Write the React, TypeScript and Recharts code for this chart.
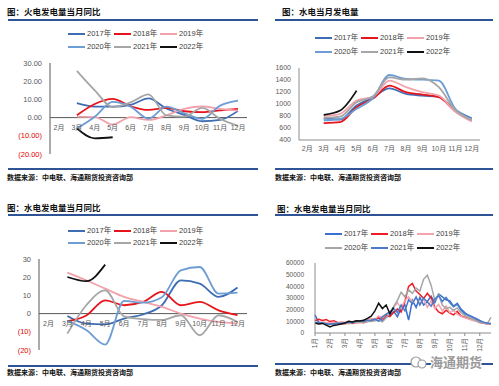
import React from "react";
import { LineChart, Line, XAxis, YAxis, ReferenceLine } from "recharts";

const MONTHS = ["2月", "3月", "4月", "5月", "6月", "7月", "8月", "9月", "10月", "11月", "12月"];
const MONTHS12 = ["1月", "2月", "3月", "4月", "5月", "6月", "7月", "8月", "9月", "10月", "11月", "12月"];
const YEARS = ["2017年", "2018年", "2019年", "2020年", "2021年", "2022年"];
const KEYS = ["y2017", "y2018", "y2019", "y2020", "y2021", "y2022"];

// 火电发电量当月同比 (%)
const THERMAL_2017 = [null, 7.9, 6.0, 6.0, 7.0, 10.6, 5.0, 1.5, -2.0, -1.3, 3.7];
const THERMAL_2018 = [null, 1.3, 7.5, 10.3, 6.2, 4.2, 5.3, 3.5, 3.0, 4.0, 4.8];
const THERMAL_2019 = [null, 0.5, 0.3, -3.8, 0.3, -1.3, 1.2, 4.8, 6.1, 4.8, 3.8];
const THERMAL_2020 = [null, -6.0, 0.5, 8.6, 6.0, -0.6, 6.0, 2.4, -0.7, 6.6, 9.3];
const THERMAL_2021 = [null, 25.7, 15.0, 5.8, 8.4, 12.8, 1.2, 0.5, 5.3, -0.7, -4.5];
const THERMAL_2022 = [null, -5.9, -11.4, -10.8];

// 水电当月发电量 (亿千瓦时)
const HYDRO_2017 = [null, 755, 742, 975, 1110, 1262, 1168, 1140, 1120, 900, 760];
const HYDRO_2018 = [null, 682, 698, 947, 1090, 1306, 1196, 1157, 1113, 880, 720];
const HYDRO_2019 = [null, 800, 836, 1057, 1120, 1390, 1280, 1196, 1140, 870, 710];
const HYDRO_2020 = [null, 726, 750, 920, 1100, 1483, 1417, 1405, 1390, 920, 750];
const HYDRO_2021 = [null, 770, 790, 1030, 1130, 1444, 1405, 1428, 1280, 900, 735];
const HYDRO_2022 = [null, 820, 892, 1223];

// 水电发电量当月同比 (%)
const HYDRO_YOY_2017 = [null, -1.3, -5.5, -5.9, -2.7, -0.5, 4.6, 18.3, 16.5, 9.2, 14.3];
const HYDRO_YOY_2018 = [null, -4.2, -1.0, 7.3, 4.6, 6.4, 11.9, 4.6, 6.4, 1.8, -0.9];
const HYDRO_YOY_2019 = [null, 22.5, 18.3, 13.7, 9.2, 6.4, 3.7, 0.0, -2.7, -4.6, -5.5];
const HYDRO_YOY_2020 = [null, -4.0, -9.0, -17.0, 7.0, 6.0, 9.0, 23.8, 25.6, 11.0, 11.5];
const HYDRO_YOY_2021 = [null, -11.0, 4.6, 12.8, -1.5, -3.0, -3.5, -0.9, -11.9, -0.9, -4.6];
const HYDRO_YOY_2022 = [null, 20.1, 17.8, 26.9];

// 日均水电发电量, 4 readings per month
const DAILY_2017 = [
  15500, 9000, 8500, 8800, 8200, 7800, 8600, 8000, 8400, 9000, 8700, 9300,
  9500, 10200, 9800, 11000, 11500, 12800, 10500, 13500, 15000, 18500, 14000, 21000,
  24000, 11000, 28000, 22000, 30500, 24000, 27000, 31500, 26000, 33500, 31000, 28500,
  27500, 23000, 25500, 20500, 17500, 15000, 14000, 12000, 10500, 9000, 8200, 7800,
];
const DAILY_2018 = [
  10500, 11800, 10800, 11500, 9800, 10500, 9000, 8500, 8000, 8600, 8200, 9000,
  9200, 8800, 10000, 10500, 11500, 13000, 12000, 15500, 14000, 17500, 20500, 18000,
  27000, 40000, 42500, 36000, 33000, 29500, 34000, 30000, 22000, 18000, 16500, 19500,
  17000, 15500, 18500, 14500, 13500, 12500, 11500, 10500, 9000, 8500, 7800, 8200,
];
const DAILY_2019 = [
  9000, 8500, 9500, 9000, 8800, 9200, 8500, 9600, 9200, 10000, 9500, 10500,
  10200, 11000, 11800, 12500, 12000, 14500, 13000, 16500, 18000, 22000, 26000, 21000,
  28000, 31000, 26500, 30000, 25000, 29000, 22000, 27500, 21000, 24500, 19000, 23000,
  17500, 19500, 16000, 14500, 13000, 12000, 11000, 10000, 9500, 8500, 7500, 8000,
];
const DAILY_2020 = [
  8500, 8000, 8800, 7800, 7200, 7600, 8200, 7800, 8500, 8000, 9000, 8800,
  9500, 9000, 10000, 9800, 10500, 11000, 9500, 13000, 17000, 22500, 28000, 35000,
  31000, 37000, 34000, 38500, 36000, 46000, 49500, 41000, 28000, 33000, 24000, 21000,
  22000, 19500, 21500, 17500, 15000, 13500, 12000, 10500, 9000, 8500, 7800, 13500,
];
const DAILY_2021 = [
  8800, 9300, 8500, 8000, 7500, 8000, 8500, 8200, 8800, 9500, 9000, 10000,
  10500, 9800, 11000, 10800, 12000, 10000, 14000, 16000, 18000, 21000, 17500, 24000,
  19000, 28500, 25000, 31000, 24000, 30000, 26500, 23000, 29000, 32000, 27000, 30500,
  26000, 22500, 24500, 19500, 16500, 15500, 13500, 12500, 10500, 9200, 8600, 8000,
];
const DAILY_2022 = [
  8500, 7800, 8200, 6800, 5200, 6500, 7000, 7800, 8500, 10000, 9500, 10500,
  10200, 11000, 12500, 14500, 19000, 25500, 21000, 24000, 16500, 22000,
];

const COLORS = ["#3e6db3", "#e8141b", "#f2a2ac", "#6d9dd4", "#a6a6a6", "#111111"];
const DAILY_COLORS = ["#3b6fd0", "#ee1c25", "#f5a3ad", "#a6a6a6", "#4a7bc8", "#111111"];

const FONT = '"Liberation Sans", Arial, "Noto Sans CJK SC", sans-serif';
const CJK = '"Noto Sans CJK SC", sans-serif';
const RULE = "#2f5496";
const AXIS = "#595959";

const toRows = (cats: any[], series: any[][]) =>
  cats.map((m, i) => {
    const r: any = { m };
    series.forEach((s, k) => {
      r[KEYS[k]] = s[i] ?? null;
    });
    return r;
  });

const thermalRows = toRows(MONTHS, [THERMAL_2017, THERMAL_2018, THERMAL_2019, THERMAL_2020, THERMAL_2021, THERMAL_2022]);
const hydroRows = toRows(MONTHS, [HYDRO_2017, HYDRO_2018, HYDRO_2019, HYDRO_2020, HYDRO_2021, HYDRO_2022]);
const hydroYoyRows = toRows(MONTHS, [HYDRO_YOY_2017, HYDRO_YOY_2018, HYDRO_YOY_2019, HYDRO_YOY_2020, HYDRO_YOY_2021, HYDRO_YOY_2022]);
const dailyRows = toRows(
  DAILY_2017.map((_, i) => i),
  [DAILY_2017, DAILY_2018, DAILY_2019, DAILY_2020, DAILY_2021, DAILY_2022]
);

function Rule({ x, y, w }: { x: number; y: number; w: number }) {
  return <div style={{ position: "absolute", left: x, top: y, width: w, height: 2, background: RULE }} />;
}

function Label({ x, y, size, children, bold = false, color = "#111" }: any) {
  return (
    <div
      style={{
        position: "absolute",
        left: x,
        top: y - size * 0.65,
        fontSize: size,
        lineHeight: `${size * 1.3}px`,
        fontWeight: bold ? 700 : 400,
        fontFamily: CJK,
        color,
        whiteSpace: "nowrap",
      }}
    >
      {children}
    </div>
  );
}

function Legend({ x, y, rowGap, colors }: { x: number; y: number; rowGap: number; colors: string[] }) {
  return (
    <>
      {YEARS.map((name, i) => {
        const left = x + (i % 3) * 46;
        const top = y + Math.floor(i / 3) * rowGap;
        return (
          <React.Fragment key={name}>
            <div style={{ position: "absolute", left, top: top - 1, width: 17, height: 2, background: colors[i] }} />
            <div
              style={{
                position: "absolute",
                left: left + 19,
                top: top - 5,
                fontSize: 7.5,
                lineHeight: "10px",
                fontFamily: FONT,
                color: "#404040",
                whiteSpace: "nowrap",
              }}
            >
              {name}
            </div>
          </React.Fragment>
        );
      })}
    </>
  );
}

const pctTick = (decimals: number) => (props: any) => {
  const { x, y, payload } = props;
  const v = payload.value;
  const s = v < 0 ? `(${Math.abs(v).toFixed(decimals)})` : v.toFixed(decimals);
  return (
    <text x={x} y={y} dy="0.35em" textAnchor="end" fontSize={7.5} fontFamily={FONT} fill={v < 0 ? "#e00000" : AXIS}>
      {s}
    </text>
  );
};

function PctChart({ rows, box, decimals }: any) {
  const plotH = box.h - box.mt - box.xh;
  const zeroY = box.mt + (plotH * 30) / 50;
  const XTick = ({ x, payload }: any) => (
    <text x={x} y={zeroY + 10} dy="0.35em" textAnchor="middle" fontSize={7} fontFamily={FONT} fill={AXIS}>
      {payload.value}
    </text>
  );
  return (
    <div style={{ position: "absolute", left: box.left, top: box.top }}>
      <LineChart width={box.w} height={box.h} data={rows} margin={{ top: box.mt, right: box.mr, left: 0, bottom: 0 }}>
        <XAxis
          dataKey="m"
          height={box.xh}
          axisLine={false}
          tickLine={false}
          interval={0}
          padding={{ left: box.band / 2, right: box.band / 2 }}
          tick={<XTick />}
        />
        <YAxis
          width={box.yw}
          domain={[-20, 30]}
          ticks={[-20, -10, 0, 10, 20, 30]}
          interval={0}
          axisLine={{ stroke: AXIS }}
          tickLine={false}
          tick={pctTick(decimals)}
        />
        <ReferenceLine y={0} stroke={AXIS} strokeWidth={1} />
        {KEYS.map((k, i) => (
          <Line
            key={k}
            dataKey={k}
            type="monotone"
            stroke={COLORS[i]}
            strokeWidth={1.8}
            dot={false}
            activeDot={false}
            isAnimationActive={false}
          />
        ))}
      </LineChart>
    </div>
  );
}

const P1 = { left: 0, top: 56, w: 252, h: 104, mt: 7, mr: 5, yw: 50, xh: 6, band: 17.9 };
const P2 = { left: 250, top: 60, w: 235, h: 96, mt: 8, mr: 5, yw: 49, xh: 16, band: 16.5 };
const P3 = { left: 0, top: 252, w: 252, h: 104, mt: 7, mr: 5, yw: 39, xh: 6, band: 18.9 };
const P4 = { left: 250, top: 256, w: 245, h: 97, mt: 7, mr: 4, yw: 65, xh: 20 };

function HydroChart() {
  const XTick = ({ x, y, payload }: any) => (
    <text x={x} y={y + 1} dy="0.35em" textAnchor="middle" fontSize={7} fontFamily={FONT} fill={AXIS}>
      {payload.value}
    </text>
  );
  return (
    <div style={{ position: "absolute", left: P2.left, top: P2.top }}>
      <LineChart width={P2.w} height={P2.h} data={hydroRows} margin={{ top: P2.mt, right: P2.mr, left: 0, bottom: 0 }}>
        <XAxis
          dataKey="m"
          height={P2.xh}
          axisLine={{ stroke: "#8c8c8c" }}
          tickLine={false}
          interval={0}
          padding={{ left: P2.band / 2, right: P2.band / 2 }}
          tick={<XTick />}
        />
        <YAxis
          width={P2.yw}
          domain={[400, 1600]}
          ticks={[400, 600, 800, 1000, 1200, 1400, 1600]}
          interval={0}
          axisLine={{ stroke: "#8c8c8c" }}
          tickLine={false}
          tick={{ fontSize: 7, fontFamily: FONT, fill: AXIS }}
        />
        {KEYS.map((k, i) => (
          <Line
            key={k}
            dataKey={k}
            type="monotone"
            stroke={COLORS[i]}
            strokeWidth={1.8}
            dot={false}
            activeDot={false}
            isAnimationActive={false}
          />
        ))}
      </LineChart>
    </div>
  );
}

function DailyChart() {
  const XTick = ({ x, y, payload }: any) => (
    <text
      transform={`translate(${x},${y}) rotate(-90)`}
      dy="0.35em"
      textAnchor="end"
      fontSize={6.5}
      fontFamily={FONT}
      fill={AXIS}
    >
      {MONTHS12[Math.floor(payload.value / 4)]}
    </text>
  );
  return (
    <div style={{ position: "absolute", left: P4.left, top: P4.top }}>
      <LineChart width={P4.w} height={P4.h} data={dailyRows} margin={{ top: P4.mt, right: P4.mr, left: 0, bottom: 0 }}>
        <XAxis
          dataKey="m"
          height={P4.xh}
          axisLine={{ stroke: "#8c8c8c" }}
          tickLine={{ stroke: "#8c8c8c" }}
          tickSize={3}
          interval={3}
          tick={<XTick />}
        />
        <YAxis
          width={P4.yw}
          domain={[0, 60000]}
          ticks={[0, 10000, 20000, 30000, 40000, 50000, 60000]}
          interval={0}
          axisLine={{ stroke: "#8c8c8c" }}
          tickLine={false}
          tickMargin={5}
          tick={{ fontSize: 6.5, fontFamily: FONT, fill: AXIS }}
        />
        {KEYS.map((k, i) => (
          <Line
            key={k}
            dataKey={k}
            type="linear"
            stroke={DAILY_COLORS[i]}
            strokeWidth={1.5}
            dot={false}
            activeDot={false}
            isAnimationActive={false}
          />
        ))}
      </LineChart>
    </div>
  );
}

const SOURCE = "数据来源：中电联、海通期货投资咨询部";

export default function App() {
  return (
    <div
      style={{
        position: "absolute",
        left: 0,
        top: 0,
        width: 499,
        height: 386,
        background: "#fff",
        overflow: "hidden",
      }}
    >
      {/* 火电发电量当月同比 */}
      <Label x={7} y={12} size={8.5} bold>图：火电发电量当月同比</Label>
      <Rule x={8} y={19} w={250} />
      <Legend x={68} y={34} rowGap={13} colors={COLORS} />
      <PctChart rows={thermalRows} box={P1} decimals={2} />
      <Rule x={8} y={168} w={250} />
      <Label x={7} y={178} size={7} bold>{SOURCE}</Label>

      {/* 水电当月发电量 */}
      <Label x={282} y={12} size={8.5} bold>图：水电当月发电量</Label>
      <Rule x={275} y={19} w={218} />
      <Legend x={315} y={38} rowGap={14} colors={COLORS} />
      <HydroChart />
      <Rule x={275} y={168} w={218} />
      <Label x={275} y={178} size={7} bold>{SOURCE}</Label>

      {/* 水电发电量当月同比 */}
      <Label x={7} y={208} size={8.5} bold>图：水电发电量当月同比</Label>
      <Rule x={8} y={214} w={250} />
      <Legend x={68} y={231} rowGap={12} colors={COLORS} />
      <PctChart rows={hydroYoyRows} box={P3} decimals={0} />
      <Rule x={8} y={365} w={250} />
      <Label x={7} y={373} size={7} bold>{SOURCE}</Label>

      {/* 日均水电发电量 */}
      <Label x={277} y={209} size={8.5} bold>图：水电发电量当月同比</Label>
      <Rule x={275} y={214} w={218} />
      <Legend x={325} y={234} rowGap={14} colors={DAILY_COLORS} />
      <DailyChart />
      <Rule x={275} y={363} w={218} />
      <Label x={275} y={373} size={7} bold>{SOURCE}</Label>
      <svg style={{ position: "absolute", left: 405, top: 352 }} width={90} height={20}>
        <circle cx={11} cy={10} r={5} fill="#fff" stroke="#9a9a9a" strokeWidth={1.2} />
        <circle cx={17} cy={12} r={4} fill="#fff" stroke="#9a9a9a" strokeWidth={1.2} />
        <text
          x={25}
          y={15}
          fontSize={13}
          fontWeight={700}
          fontFamily={CJK}
          fill="#9a9a9a"
          stroke="#fff"
          strokeWidth={2.5}
          paintOrder="stroke"
        >
          海通期货
        </text>
      </svg>
    </div>
  );
}
